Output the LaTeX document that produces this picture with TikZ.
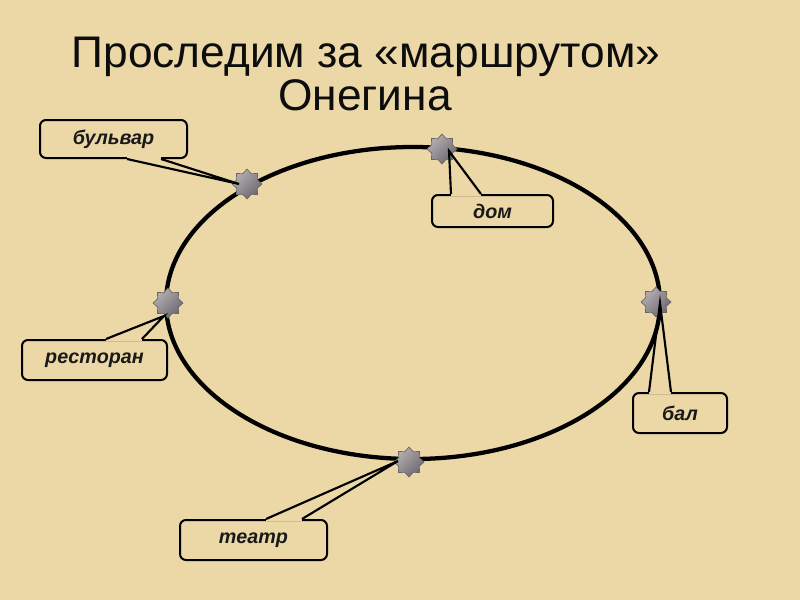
\documentclass[tikz,border=0pt]{standalone}
\usepackage{fontspec}
\setmainfont{Liberation Sans}
\usetikzlibrary{shapes.geometric,calc}
\definecolor{parch}{HTML}{EBD8A6}
\definecolor{starA}{HTML}{B5B0B0}
\definecolor{starB}{HTML}{6C6772}
\begin{document}
\begin{tikzpicture}[x=0.75pt,y=-0.75pt,
  titlefont/.style={font=\fontsize{33.2}{38}\selectfont, text=black!95, inner sep=0pt, anchor=base},
  box/.style={draw=black, line width=1.5pt, rounded corners=4.5pt, inner sep=0pt,
    font=\bfseries\itshape\fontsize{14.8}{17}\selectfont, text=black!90},
  starmark/.style={star, star points=8, star point ratio=1.35, minimum size=22.5pt, inner sep=0pt,
    draw=black!60, line width=0.5pt, top color=starA, bottom color=starB, shading angle=45},
  route/.style={line width=3.2pt, black},
  ptr/.style={line width=1.6pt, black, line join=miter},
  gap/.style={fill=parch}]
% background
\fill[parch] (0,0) rectangle (800,600);
\useasboundingbox (0,0) rectangle (800,600);
% title
\node[titlefont] (t1) at (366,67) {Проследим за «маршрутом»};
\node[titlefont] (t2) at (365,110) {Онегина};
% route
\draw[route] (413,303) ellipse [x radius=247, y radius=156];
% stars
\node[starmark] (sBul) at (247,184) {};
\node[starmark] (sDom) at (442,149) {};
\node[starmark] (sRes) at (168,303) {};
\node[starmark] (sBal) at (656,302) {};
\node[starmark] (sTea) at (409,462) {};
% tips
\coordinate (pBul) at (239,184);
\coordinate (pDom) at (449,151);
\coordinate (pRes) at (164,316);
\coordinate (pBal) at (660,303);
\coordinate (pTea) at (398,461);
% boxes
\node[box, minimum width=110.25pt, minimum height=28.5pt] (bBul) at (113.5,139) {бульвар};
\node[box, minimum width=90.75pt, minimum height=24pt] (bDom) at (492.5,211) {дом};
\node[box, minimum width=108.75pt, minimum height=30pt] (bRes) at (94.5,360) {ресторан};
\node[box, minimum width=70.5pt, minimum height=30pt] (bBal) at (680,413) {бал};
\node[box, minimum width=110.25pt, minimum height=30pt] (bTea) at (253.5,540) {театр};
% pointer bases
\coordinate (bBul1) at ($(bBul.south west)+(88,0)$);
\coordinate (bBul2) at ($(bBul.south west)+(122,0)$);
\coordinate (bDom1) at ($(bDom.north west)+(20,0)$);
\coordinate (bDom2) at ($(bDom.north west)+(50,0)$);
\coordinate (bRes1) at ($(bRes.north west)+(85,0)$);
\coordinate (bRes2) at ($(bRes.north west)+(121,0)$);
\coordinate (bBal1) at ($(bBal.north west)+(17,0)$);
\coordinate (bBal2) at ($(bBal.north west)+(39,0)$);
\coordinate (bTea1) at ($(bTea.north west)+(87,0)$);
\coordinate (bTea2) at ($(bTea.north west)+(123,0)$);
% gaps in the box borders
\foreach \b in {Bul,Dom,Res,Bal,Tea}{
  \fill[gap] ($(b\b1)+(0,-2)$) rectangle ($(b\b2)+(0,2)$);
}
% pointers
\draw[ptr] (bBul1) -- (pBul) -- (bBul2);
\draw[ptr] (bDom1) -- (pDom) -- (bDom2);
\draw[ptr] (bRes1) -- (pRes) -- (bRes2);
\draw[ptr] (bBal1) -- (pBal) -- (bBal2);
\draw[ptr] (bTea1) -- (pTea) -- (bTea2);
\end{tikzpicture}
\end{document}
